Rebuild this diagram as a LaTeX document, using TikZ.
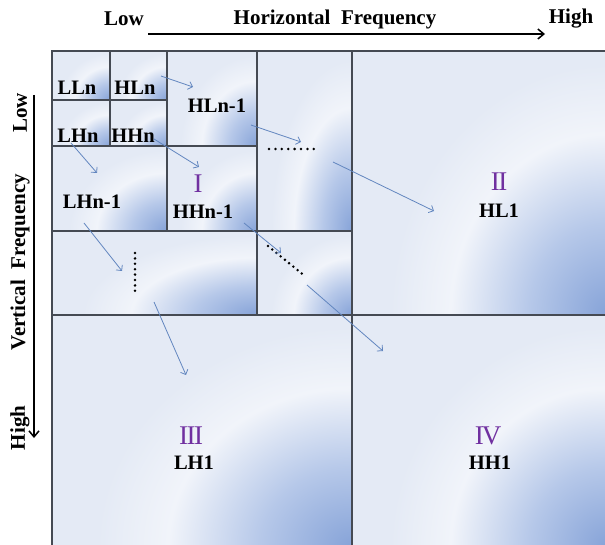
\documentclass[tikz,border=0pt]{standalone}
\usepackage{fontspec}
\setmainfont{Liberation Serif}
\usetikzlibrary{arrows.meta}

\definecolor{cellbase}{HTML}{E4EAF5}
\definecolor{cellwhite}{HTML}{F1F4FA}
\definecolor{cellmid}{HTML}{B6C8E9}
\definecolor{cellblue}{HTML}{86A3D8}
\definecolor{gridline}{HTML}{454A53}
\definecolor{flow}{HTML}{6286BF}
\definecolor{bandnum}{HTML}{7030A0}

% glow in the lower right corner of every sub-band
\pgfdeclareradialshading{cellglow}{\pgfpoint{0bp}{0bp}}{%
  color(0bp)=(cellblue); color(9bp)=(cellmid); color(18bp)=(cellwhite);
  color(25bp)=(cellbase); color(50bp)=(cellbase)}

% one sub-band: x1, y1 (top left), x2, y2 (bottom right)
\newcommand\subbandcell[4]{%
  \begin{scope}
    \clip (#1,#2) rectangle (#3,#4);
    \fill[cellbase] (#1,#2) rectangle (#3,#4);
    \shade[shading=cellglow] (#3,#4) ellipse ({0.85*(#3-#1)} and {0.95*(#4-#2)});
  \end{scope}}

\tikzset{
  gridpen/.style={draw=gridline, line width=1.2pt},
  flowarrow/.style={draw=flow, line width=0.8pt, -{Straight Barb[length=4pt,width=8pt]}},
  axisarrow/.style={line width=1.5pt, -{Straight Barb[length=6pt,width=10pt]}},
  bandlabel/.style={font=\fontsize{20.5}{23}\selectfont\bfseries, inner sep=0pt},
  axislabel/.style={font=\fontsize{21}{24}\selectfont\bfseries, inner sep=0pt},
  levelnum/.style={font=\fontsize{27}{30}\selectfont, text=bandnum, inner sep=0pt},
  dotrow/.style={line width=2.8pt, line cap=round, dash pattern=on 0pt off #1},
  dotrow/.default=6.4pt
}

\begin{document}
\begin{tikzpicture}[x=1pt, y=-1pt]
  \useasboundingbox (0,0) rectangle (605,545);
  \fill[white] (0,0) rectangle (605,545);

  % sub-band backgrounds
  \subbandcell{52}{51}{110}{100}
  \subbandcell{110}{51}{167}{100}
  \subbandcell{52}{100}{110}{146}
  \subbandcell{110}{100}{167}{146}
  \subbandcell{167}{51}{257}{146}
  \subbandcell{52}{146}{167}{231}
  \subbandcell{167}{146}{257}{231}
  \subbandcell{257}{51}{352}{231}
  \subbandcell{52}{231}{257}{315}
  \subbandcell{257}{231}{352}{315}
  \subbandcell{352}{51}{607}{315}
  \subbandcell{52}{315}{352}{547}
  \subbandcell{352}{315}{607}{547}

  % decomposition grid
  \draw[gridpen] (52,51) rectangle (607,547);
  \draw[gridpen] (352,51) -- (352,547) (52,315) -- (607,315);
  \draw[gridpen] (257,51) -- (257,315) (52,231) -- (352,231);
  \draw[gridpen] (167,51) -- (167,231) (52,146) -- (257,146);
  \draw[gridpen] (110,51) -- (110,146) (52,100) -- (167,100);

  % axes
  \coordinate (hstart) at (148,34);
  \coordinate (hend) at (545,34);
  \coordinate (vstart) at (34,95);
  \coordinate (vend) at (34,438);
  \draw[axisarrow] (hstart) -- (hend);
  \draw[axisarrow] (vstart) -- (vend);
  \node[axislabel] (hlow) at (124,19) {Low};
  \node[axislabel] (htitle) at (335,19) {Horizontal\ \ Frequency};
  \node[axislabel] (hhigh) at (571,19) {High};
  \node[axislabel, rotate=90] (vlow) at (20,113) {Low};
  \node[axislabel, rotate=90] (vtitle) at (20,262) {Vertical\ \ Frequency};
  \node[axislabel, rotate=90] (vhigh) at (20,428) {High};

  % sub-band labels
  \node[bandlabel] (lln) at (77,88) {LLn};
  \node[bandlabel] (hln) at (135,88) {HLn};
  \node[bandlabel] (lhn) at (78,136) {LHn};
  \node[bandlabel] (hhn) at (133,136) {HHn};
  \node[bandlabel] (hln1) at (217,106) {HLn-1};
  \node[bandlabel] (lhn1) at (92,202) {LHn-1};
  \node[bandlabel] (hhn1) at (203,212) {HHn-1};
  \node[levelnum] (lvone) at (198,184) {I};
  \node[levelnum] (lvtwo) at (499,182) {I\kern-1.5ptI};
  \node[bandlabel] (hl1) at (499,211) {HL1};
  \node[levelnum] (lvthree) at (191,436) {I\kern-1.5ptI\kern-1.5ptI};
  \node[bandlabel] (lh1) at (194,463) {LH1};
  \node[levelnum] (lvfour) at (488,436) {I\kern-2ptV};
  \node[bandlabel] (hh1) at (490,463) {HH1};

  % rows of dots for the omitted levels
  \coordinate (hdotsa) at (269,149);
  \coordinate (hdotsb) at (320,149);
  \coordinate (vdotsa) at (135,253);
  \coordinate (vdotsb) at (135,296);
  \coordinate (ddotsa) at (268,246);
  \coordinate (ddotsb) at (306,277);
  \draw[dotrow] (hdotsa) -- (hdotsb);
  \draw[dotrow=5.4pt] (vdotsa) -- (vdotsb);
  \draw[dotrow=5.45pt] (ddotsa) -- (ddotsb);

  % arrows from one level to the next
  \coordinate (a1s) at (161,76);  \coordinate (a1e) at (193,87);
  \coordinate (a2s) at (251,125); \coordinate (a2e) at (301,142);
  \coordinate (a3s) at (333,162); \coordinate (a3e) at (434,211);
  \coordinate (a4s) at (71,143);  \coordinate (a4e) at (97,173);
  \coordinate (a5s) at (154,139); \coordinate (a5e) at (199,167);
  \coordinate (a6s) at (84,223);  \coordinate (a6e) at (122,271);
  \coordinate (a7s) at (244,223); \coordinate (a7e) at (281,253);
  \coordinate (a8s) at (307,285); \coordinate (a8e) at (383,351);
  \coordinate (a9s) at (154,302); \coordinate (a9e) at (186,375);
  \foreach \k in {1,...,9} {\draw[flowarrow] (a\k s) -- (a\k e);}
\end{tikzpicture}
\end{document}
